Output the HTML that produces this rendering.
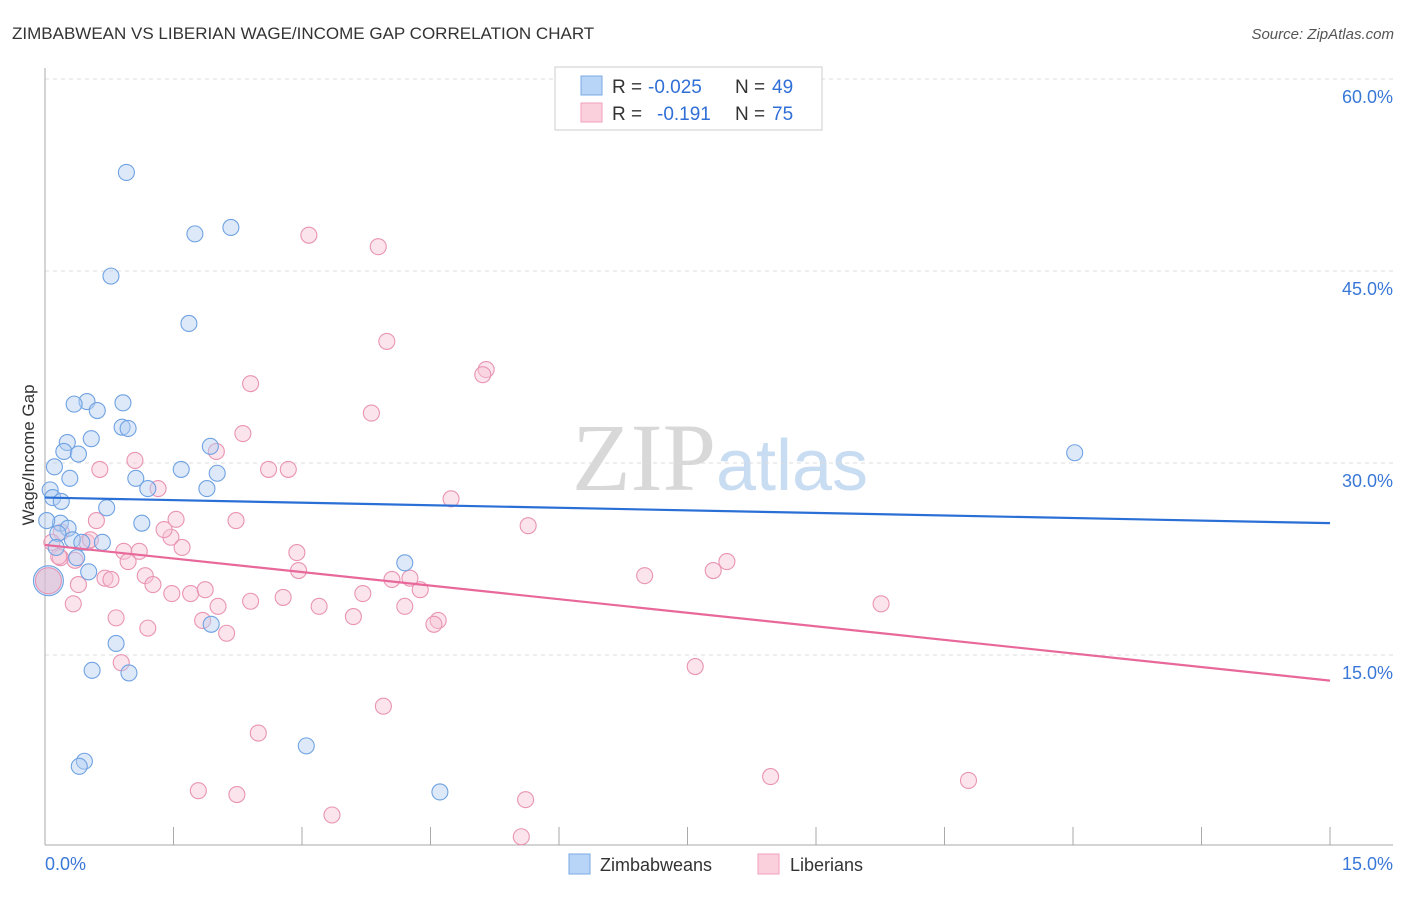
<!DOCTYPE html>
<html><head><meta charset="utf-8"><style>
body{margin:0;background:#fff;font-family:"Liberation Sans",sans-serif;}
svg text{font-family:"Liberation Sans",sans-serif;}
</style></head><body>
<svg id="chart" width="1406" height="892" viewBox="0 0 1406 892" xmlns="http://www.w3.org/2000/svg">
<text x="12" y="39" font-size="17" fill="#333">ZIMBABWEAN VS LIBERIAN WAGE/INCOME GAP CORRELATION CHART</text>
<text x="1394" y="39" font-size="15" fill="#555" text-anchor="end" font-style="italic">Source: ZipAtlas.com</text>
<text x="720" y="490" font-size="96" text-anchor="middle"><tspan fill="#d8d8d8" font-family="Liberation Serif">ZIP</tspan><tspan fill="#c8dcf2" font-size="72">atlas</tspan></text>
<text transform="translate(34,455) rotate(-90)" font-size="17" fill="#333" text-anchor="middle">Wage/Income Gap</text>
<g id="grid"></g><g id="axes"></g><g id="pts"></g><g id="trends"></g>
<g>
<rect x="555" y="67" width="267" height="63" fill="#fff" stroke="#ccc"/>
<rect x="581" y="76" width="21" height="19" fill="#b8d4f6" stroke="#7aaae6"/>
<rect x="581" y="103" width="21" height="19" fill="#fbd0dd" stroke="#ef9fbb"/>
<text x="612" y="93" font-size="19" fill="#333">R =</text>
<text x="648" y="93" font-size="19" fill="#2f6fd6">-0.025</text>
<text x="735" y="93" font-size="19" fill="#333">N =</text>
<text x="772" y="93" font-size="19" fill="#2f6fd6">49</text>
<text x="612" y="120" font-size="19" fill="#333">R =</text>
<text x="657" y="120" font-size="19" fill="#2f6fd6">-0.191</text>
<text x="735" y="120" font-size="19" fill="#333">N =</text>
<text x="772" y="120" font-size="19" fill="#2f6fd6">75</text>
</g>
<g>
<rect x="569" y="854" width="21" height="20" fill="#b8d4f6" stroke="#7aaae6"/>
<text x="600" y="871" font-size="18" fill="#333">Zimbabweans</text>
<rect x="758" y="854" width="21" height="20" fill="#fbd0dd" stroke="#ef9fbb"/>
<text x="790" y="871" font-size="18" fill="#333">Liberians</text>
</g>
</svg>
<script>
const xTicks=[0,1.5,3,4.5,6,7.5,9,10.5,12,13.5,15];
const yTicks=[15,30,45,60];
const yTickLabels=["15.0%","30.0%","45.0%","60.0%"];
const xEndLabels=["0.0%","15.0%"];
const blueX=[0.95,1.75,2.17,0.77,1.68,0.49,0.34,0.61,0.91,0.26,0.54,0.22,0.39,0.90,0.97,0.11,0.29,1.59,1.93,2.01,1.06,1.20,1.89,0.06,0.09,0.19,0.72,0.18,1.13,0.27,0.15,0.32,0.43,0.67,0.13,0.37,0.51,4.20,1.94,0.83,0.55,0.98,3.05,0.46,0.40,4.61,12.02,0.02];
const blueY=[52.7,47.9,48.4,44.6,40.9,34.8,34.6,34.1,34.7,31.6,31.9,30.9,30.7,32.8,32.7,29.7,28.8,29.5,31.3,29.2,28.8,28.0,28.0,27.9,27.3,27.0,26.5,25.3,25.3,24.9,24.5,24.0,23.8,23.8,23.4,22.6,21.5,22.2,17.4,15.9,13.8,13.6,7.9,6.7,6.3,4.3,30.8,25.5];
const pinkX=[3.08,3.89,3.99,2.40,5.15,5.11,3.81,2.31,1.05,2.00,2.84,2.61,0.64,1.32,4.74,2.23,0.60,1.53,5.64,0.19,0.49,0.08,1.47,1.39,0.92,1.10,1.60,2.94,0.18,0.35,0.97,1.17,1.26,0.70,0.77,2.96,4.05,4.26,4.38,7.00,7.80,7.96,0.39,1.48,1.70,1.87,2.40,2.78,3.71,4.20,2.02,0.33,3.20,3.60,4.59,4.54,0.83,1.84,1.20,2.12,9.76,7.59,0.89,3.95,2.49,1.79,2.24,3.35,5.61,5.56,8.47,10.78,0.53,0.16];
const pinkY=[47.8,46.9,39.5,36.2,37.3,36.9,33.9,32.3,30.2,30.9,29.5,29.5,29.5,28.0,27.2,25.5,25.5,25.6,25.1,24.6,23.8,23.8,24.2,24.8,23.1,23.1,23.4,23.0,22.6,22.4,22.3,21.2,20.5,21.0,20.9,21.6,20.9,21.0,20.1,21.2,21.6,22.3,20.5,19.8,19.8,20.1,19.2,19.5,19.8,18.8,18.8,19.0,18.8,18.0,17.7,17.4,17.9,17.7,17.1,16.7,19.0,14.1,14.4,11.0,8.9,4.4,4.1,2.5,3.7,0.8,5.5,5.2,24.0,22.7];
const bigPoint=[0.04,20.8];
const blueTrend=[27.3,25.3];
const pinkTrend=[23.6,13.0];
const NS="http://www.w3.org/2000/svg";
const X=v=>45+v/15*1285, Y=v=>847-v/15*192;
function mk(t,a,p){const e=document.createElementNS(NS,t);for(const k in a)e.setAttribute(k,a[k]);document.getElementById(p).appendChild(e);return e;}
yTicks.forEach((t,i)=>{
 const l=mk('line',{x1:45,x2:1393,y1:Y(t),y2:Y(t),stroke:'#ddd','stroke-dasharray':'4 4'},'grid');
 
 
 const tx=mk('text',{x:1393,y:Y(t)+24,'font-size':18,fill:'#3a78d8','text-anchor':'end'},'axes');
 tx.textContent=yTickLabels[i];
 
 
});
const ax=mk('line',{x1:45,x2:45,y1:68,y2:845,stroke:'#aaa'},'axes');


const bx=mk('line',{x1:45,x2:1393,y1:845,y2:845,stroke:'#aaa'},'axes');


xTicks.forEach(t=>{
 const l=mk('line',{x1:X(t),x2:X(t),y1:827,y2:845,stroke:'#aaa'},'axes');
 
 
});
const xl0=mk('text',{x:45,y:870,'font-size':18,fill:'#3a78d8'},'axes');xl0.textContent=xEndLabels[0];


const xl1=mk('text',{x:1393,y:870,'font-size':18,fill:'#3a78d8','text-anchor':'end'},'axes');xl1.textContent=xEndLabels[1];


function dots(xs,ys,fill,stroke,name){xs.forEach((x,i)=>{
 const c=mk('circle',{cx:X(x),cy:Y(ys[i]),r:8,fill:fill,'fill-opacity':0.45,stroke:stroke,'stroke-width':1.1},'pts');
 
 
});}
const b1=mk('circle',{cx:X(bigPoint[0]),cy:Y(bigPoint[1]),r:15,fill:'#a8c8f0','fill-opacity':0.5,stroke:'#6a9fe0'},'pts');


const b2=mk('circle',{cx:X(bigPoint[0]),cy:Y(bigPoint[1]),r:13,fill:'#f4b8cc','fill-opacity':0.5,stroke:'#e890b0'},'pts');


dots(pinkX,pinkY,'#f7c3d4','#e994b3','liberian-point');
dots(blueX,blueY,'#b3cff2','#6fa2e2','zimbabwean-point');
const t1=mk('line',{x1:X(0),x2:X(15),y1:Y(blueTrend[0]),y2:Y(blueTrend[1]),stroke:'#2a6fd6','stroke-width':2.2},'trends');


const t2=mk('line',{x1:X(0),x2:X(15),y1:Y(pinkTrend[0]),y2:Y(pinkTrend[1]),stroke:'#e8689a','stroke-width':2.2},'trends');


</script>
</body></html>
